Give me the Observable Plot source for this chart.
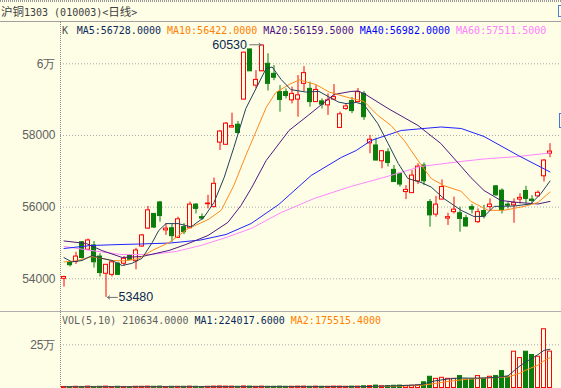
<!DOCTYPE html>
<html><head><meta charset="utf-8">
<script src="https://cdn.jsdelivr.net/npm/d3@7"></script>
<script src="https://cdn.jsdelivr.net/npm/@observablehq/plot@0.6"></script>
<style>
html,body{margin:0;padding:0;background:#fefee6;}
#wrap{position:relative;width:561px;height:388px;overflow:hidden;background:#fefee6;}
.abs{position:absolute;}
.mono{font-family:"DejaVu Sans Mono",monospace;font-size:10px;white-space:pre;line-height:12px;}
.cjk{font-family:"Noto Sans CJK SC",sans-serif;font-size:11.5px;}
svg{display:block;}
</style></head><body>
<div id="wrap">
  <div class="abs" style="left:0;top:0;width:561px;height:2px;background:repeating-linear-gradient(90deg,#9a9a9a 0 1px,transparent 1px 2px)"></div>
  <div id="title" class="abs mono" style="left:1px;top:4px;color:#404040;line-height:14px"></div>
  <div class="abs" style="left:558px;top:5px;width:8px;height:12px;border:1px solid #4a80d8;box-sizing:border-box"></div>
  <div id="price" class="abs" style="left:0;top:21px"></div>
  <div id="vol" class="abs" style="left:0;top:312px"></div>
  <div class="abs" style="left:0;top:21px;width:561px;height:1px;background:#a0a0a0"></div>
  <div class="abs" style="left:0;top:311px;width:561px;height:1px;background:#b0b0b0"></div>
  <div class="abs" style="left:60px;top:22px;width:1px;height:366px;background:repeating-linear-gradient(180deg,#8a8a8a 0 1px,transparent 1px 2px)"></div>
  <div class="abs" style="left:559px;top:113px;width:8px;height:15px;border:1px solid #3b78e0;box-sizing:border-box"></div>
  <div id="plegend" class="abs mono" style="left:62px;top:25px"></div>
  <div id="vlegend" class="abs mono" style="left:62px;top:315px"></div>
</div>
<script>
// ---------- data ----------
const titleParts = [["沪铜", true], ["1303 (010003)<", false], ["日线", true], [">", false]];
const open  = [54000,54450,54470,55020,54810,54930,54620,54140,54110,54420,54420,54650,54490,54900,55400,55810,56130,55350,55410,55140,55440,55410,56070,55720,56080,56000,57800,57740,58220,58300,59000,60400,59390,59790,60000,59720,59210,59210,58980,59000,59440,59300,58930,58950,58840,59000,58210,58740,58960,58930,59160,57780,57720,57280,57530,57040,56930,56420,56390,56720,57160,56140,55790,56210,55680,55860,55830,55690,56000,55580,55890,56000,56580,56460,56070,56050,56210,56450,56210,56300,56860,57490];
const high  = [54070,54470,54740,55040,55110,55040,54700,54400,54480,54460,54620,54670,54850,55240,56020,55820,56160,55540,55540,55720,55540,56140,56100,55810,56330,56810,58140,58360,58620,58390,60320,60410,59810,60530,60280,59950,59390,59300,59350,59670,59920,59490,59390,59020,59160,59420,58650,58880,59060,59310,59230,58000,57920,57570,57630,57160,56940,56600,57020,57210,57230,56210,56300,56760,55830,56280,56000,55770,56070,55950,56050,56230,56600,56510,56140,56230,56370,56580,56320,56450,57330,57770];
const low   = [53770,54330,54400,54550,54790,54300,54050,53480,54050,54090,54350,54520,54250,54880,55380,55400,55580,55210,55020,55140,55230,55400,55810,55630,55950,55980,57580,57720,58210,58030,58990,59790,59300,59780,59240,59530,58650,59020,58880,58510,59210,58790,58920,58740,58560,58980,58210,58700,58610,58920,58420,57490,57290,57070,57120,56690,56560,56210,56380,56630,56600,55440,55720,56200,55490,55810,55300,55440,55810,55540,55670,55910,56300,55810,55950,55550,56090,56090,56090,56280,56700,57380];
const close = [54050,54380,54620,54580,55070,54460,54160,54390,54460,54110,54560,54530,54790,55210,55910,55430,55750,55400,55190,55660,55300,56070,55950,55680,56100,56650,58110,58330,58260,58070,60310,59790,59550,60510,59440,59610,58990,59100,59160,59120,59740,58930,59270,58860,58980,59070,58590,58810,58680,59210,58510,57880,57300,57560,57230,56700,56630,56480,56880,57130,56720,55770,56070,56560,55720,55930,55670,55460,55930,55860,55740,56070,56330,55910,56040,56110,56260,56230,56170,56400,57300,57550];
const volume = [6000,5000,7000,6000,8000,6000,7000,8000,6000,7000,6000,5000,7000,7000,8000,7000,8000,6000,7000,7000,7000,8000,7000,6000,7000,8000,9000,8000,8000,7000,9000,8000,7000,8000,7000,7000,8000,7000,7000,8000,8000,7000,8000,7000,7000,8000,8000,7000,8000,8000,10000,11000,14000,10000,11000,13000,14000,12000,13000,15000,33000,65000,53000,59000,53000,53000,69000,49000,49000,69000,53000,65000,69000,98000,65000,210000,173000,210000,191000,181000,340000,210634];

// moving averages: [candle index, value]
const ma5  = [[0,54590],[1.3,54470],[3,54510],[4.7,54650],[6.3,54570],[8,54510],[9.7,54370],[11.3,54430],[13,54570],[14.7,55010],[15.8,55350],[17,55540],[19,55540],[21.2,55450],[23.3,55710],[25,56130],[26.7,56830],[28.3,57660],[30.3,58750],[32,59310],[33.7,59870],[34.7,59910],[36.2,59560],[37.8,59280],[40.3,59210],[42.5,59230],[44.2,59070],[45.8,58930],[47,58890],[48.7,58920],[50,58860],[52.3,58330],[54,57780],[55.7,57220],[57.3,56800],[59.5,56690],[61.2,56560],[63.3,56240],[66.2,55910],[68.3,55740],[70,55740],[71.7,56020],[75,56030],[77.8,56090],[79.5,56380],[81,56728]];
const ma10 = [[0,54470],[2,54500],[4.7,54620],[6.3,54570],[8,54510],[10.3,54500],[12.5,54570],[14.7,54790],[17.5,55010],[20.7,55400],[24,55650],[26.2,55910],[28.3,56600],[30.3,57440],[32,58110],[33.7,58780],[35.3,59200],[37.5,59420],[39.2,59550],[42,59420],[44.2,59210],[47.3,59060],[50,58950],[52.3,58560],[54.5,58280],[56.7,57860],[59,57300],[61.2,56800],[63.3,56600],[66.2,56440],[67.8,56160],[70.7,55910],[73.3,55910],[76.7,56020],[79,56130],[81,56422]];
const ma20 = [[0,55055],[3.7,54985],[6.3,54790],[9.7,54594],[13,54622],[17.5,54790],[20.3,54957],[24,55208],[27.3,55571],[29.5,56046],[31.2,56520],[33.7,57301],[37.5,58139],[40.7,58560],[45,59143],[47.8,59227],[49,59240],[50,59171],[54,58753],[59,58278],[62.8,57776],[66.2,57134],[67.8,56827],[70,56464],[72.8,56185],[75.7,56129],[79,56087],[81,56159.5]];
const ma40 = [[0,54846],[4.5,54929],[9.5,54957],[12.8,54971],[17.8,54999],[22.8,55083],[27,55236],[31.2,55543],[35.8,56074],[41.2,56883],[46.2,57385],[48.7,57580],[51.2,57860],[56.2,58139],[62.8,58236],[66.2,58194],[70,57971],[75.7,57441],[81,56982]];
const ma60 = [[0,54902],[4.5,54790],[9.5,54678],[14.5,54678],[18.7,54762],[22.8,54929],[27,55152],[31.2,55404],[36.2,55850],[41.7,56241],[47.8,56576],[53.3,56827],[59.5,57134],[66.2,57274],[70,57343],[75.7,57413],[81,57511.5]];
const vma1 = [[0,7000],[50,8000],[52,10000],[55,12000],[59,18000],[60,24000],[61,34000],[62,42000],[64,52000],[66,58000],[68,57000],[70,58000],[72,61000],[74,70000],[75,100000],[76,128000],[77,152000],[78,172000],[79,193000],[80,218000],[81,224017.6]];
const vma2 = [[0,7000],[50,7500],[55,10000],[59,14000],[61,22000],[64,38000],[67,50000],[70,57000],[74,64000],[76,86000],[77,104000],[78,118000],[79,132000],[80,158000],[81,175515.4]];

const priceTicks = [54000, 56000, 58000, 60000];
const priceTickLabels = ["54000", "56000", "58000", "6万"];
const volTicks = [250000];
const volTickLabels = ["25万"];

const priceLegend = [["MA5:56728.0000", "#0c2a5c"], ["MA10:56422.0000", "#ff8000"], ["MA20:56159.5000", "#4e0f86"], ["MA40:56982.0000", "#0000ff"], ["MA60:57511.5000", "#ff80ff"]];
const volLegend = [["VOL(5,10) 210634.0000", "#606060"], ["MA1:224017.6000", "#0c2a5c"], ["MA2:175515.4000", "#ff8000"]];

// ---------- styling ----------
const BG = "#fefee6", RED = "#ff0000", GREEN = "#0b7d0b";
const C5 = "#23405e", C10 = "#ff8a1c", C20 = "#4e1a80", C40 = "#2222ff", C60 = "#ff86ff";
const XDOM = [-3.5 / 6, 497.5 / 6];
const HALF = 2 / 6;
const FONT = "'Liberation Sans', sans-serif";

// ---------- header / legends ----------
document.getElementById("title").innerHTML = titleParts.map(([t, c]) => {
  const s = t.replace(/</g, "&lt;").replace(/>/g, "&gt;");
  return c ? `<span class="cjk">${s}</span>` : s;
}).join("");
document.getElementById("plegend").innerHTML =
  `<span style="color:#505050">K</span>` +
  `<span style="position:absolute;left:14.7px;top:0">` +
  priceLegend.map(([t, c]) => `<span style="color:${c}">${t}</span>`).join(" ") + `</span>`;
document.getElementById("vlegend").innerHTML =
  volLegend.map(([t, c]) => `<span style="color:${c}">${t}</span>`).join(" ");

// ---------- price panel ----------
const candles = close.map((c, i) => ({i, o: open[i], h: high[i], l: low[i], c, up: c >= open[i]}));
const hiI = d3.maxIndex(high), loI = d3.minIndex(low);
const hiAnn = [{i: hiI, v: high[hiI]}];
const loAnn = [{i: loI, v: low[loI]}];
const line = (data, stroke) => Plot.line(data, {x: d => d[0], y: d => d[1], stroke, strokeWidth: 1});

const priceChart = Plot.plot({
  width: 561, height: 290,
  marginLeft: 60, marginRight: 0, marginTop: 0, marginBottom: 0,
  style: {background: "transparent", overflow: "visible", fontFamily: FONT},
  x: {domain: XDOM, axis: null},
  y: {domain: [53087, 61180], axis: null},
  color: {type: "identity"},
  marks: [
    Plot.ruleY(priceTicks, {stroke: "#a8a8a8", strokeDasharray: "1,2"}),
    Plot.text(priceTicks, {y: d => d, text: (d, i) => priceTickLabels[i], frameAnchor: "left", dx: -5, textAnchor: "end", fill: "#606060", fontSize: 12}),
    Plot.ruleX(candles, {x: "i", y1: "l", y2: "h", stroke: d => d.up ? RED : GREEN, strokeWidth: 1}),
    Plot.rect(candles, {x1: d => d.i - HALF, x2: d => d.i + HALF, y1: "o", y2: "c", fill: d => d.up ? BG : GREEN, stroke: d => d.up ? RED : GREEN, strokeWidth: 1}),
    line(ma60, C60), line(ma40, C40), line(ma20, C20), line(ma10, C10), line(ma5, C5),
    Plot.arrow(hiAnn, {x1: d => d.i - 2.05, x2: d => d.i - 0.15, y1: "v", y2: "v", stroke: "#707070", strokeWidth: 1, headLength: 4, headAngle: 70}),
    Plot.text(hiAnn, {x: "i", y: "v", text: d => String(d.v), dx: -15, textAnchor: "end", fill: "#0c2a52", fontSize: 12.5}),
    Plot.arrow(loAnn, {x1: d => d.i + 1.9, x2: d => d.i + 0.25, y1: "v", y2: "v", stroke: "#707070", strokeWidth: 1, headLength: 4, headAngle: 70}),
    Plot.text(loAnn, {x: "i", y: "v", text: d => String(d.v), dx: 12.5, textAnchor: "start", fill: "#0c2a52", fontSize: 12.5})
  ]
});
document.getElementById("price").appendChild(priceChart);

// ---------- volume panel ----------
const vols = volume.map((v, i) => ({i, v, up: close[i] >= open[i]}));
const volChart = Plot.plot({
  width: 561, height: 76,
  marginLeft: 60, marginRight: 0, marginTop: 0, marginBottom: 0,
  style: {background: "transparent", overflow: "visible", fontFamily: FONT},
  x: {domain: XDOM, axis: null},
  y: {domain: [-2894, 436920], axis: null},
  color: {type: "identity"},
  marks: [
    Plot.ruleY(volTicks, {stroke: "#a8a8a8", strokeDasharray: "1,2"}),
    Plot.text(volTicks, {y: d => d, text: (d, i) => volTickLabels[i], frameAnchor: "left", dx: -5, textAnchor: "end", fill: "#606060", fontSize: 12}),
    Plot.rect(vols, {x1: d => d.i - HALF, x2: d => d.i + HALF, y1: 0, y2: "v", fill: d => d.up ? BG : GREEN, stroke: d => d.up ? RED : GREEN, strokeWidth: 1}),
    line(vma2, C10), line(vma1, C5)
  ]
});
document.getElementById("vol").appendChild(volChart);
</script>
</body></html>
